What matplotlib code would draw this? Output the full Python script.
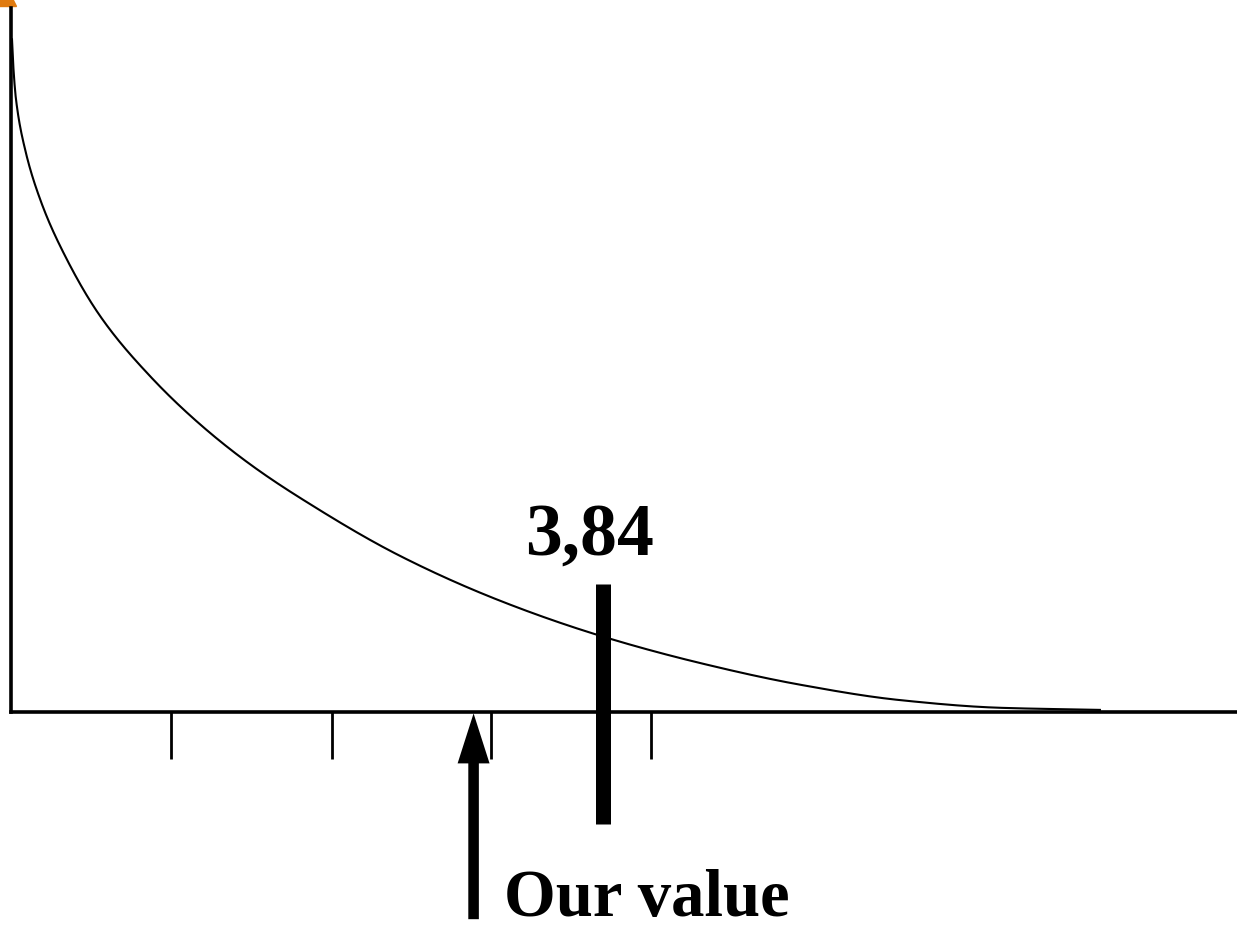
import matplotlib.pyplot as plt
import numpy as np
from matplotlib.patches import FancyArrowPatch

curve_x = [0.0065, 0.016, 0.032, 0.091, 0.188, 0.318, 0.577, 0.901, 1.226,
           1.550, 1.874, 2.523, 3.171, 3.820, 4.468, 5.117, 5.765, 6.414, 7.062]
curve_y = [0.961, 0.919, 0.876, 0.804, 0.733, 0.666, 0.566, 0.480, 0.411,
           0.354, 0.306, 0.223, 0.159, 0.109, 0.070, 0.039, 0.017, 0.006, 0.003]

tick_pos = [1.04, 2.08, 3.11, 4.15]
crit_value = 3.84
crit_label = '3,84'
our_value = 3.0
our_label = 'Our value'


def pchip(x, y, xs):
    # monotone cubic through the points so the curve stays smooth
    x = np.asarray(x, float)
    y = np.asarray(y, float)
    h = np.diff(x)
    d = np.diff(y) / h
    m = np.zeros_like(y)
    for k in range(1, len(x) - 1):
        if d[k - 1] * d[k] > 0:
            w1 = 2 * h[k] + h[k - 1]
            w2 = h[k] + 2 * h[k - 1]
            m[k] = (w1 + w2) / (w1 / d[k - 1] + w2 / d[k])
    m[0] = d[0]
    m[-1] = d[-1]
    idx = np.clip(np.searchsorted(x, xs) - 1, 0, len(x) - 2)
    t = (xs - x[idx]) / h[idx]
    h00 = 2 * t**3 - 3 * t**2 + 1
    h10 = t**3 - 2 * t**2 + t
    h01 = -2 * t**3 + 3 * t**2
    h11 = t**3 - t**2
    return (h00 * y[idx] + h10 * h[idx] * m[idx]
            + h01 * y[idx + 1] + h11 * h[idx] * m[idx + 1])


fig = plt.figure(figsize=(12.37, 9.29), dpi=100)
ax = fig.add_axes([0, 0, 1, 1])
ax.set_xlim(-0.0713, 7.951)
ax.set_ylim(-0.3086, 1.0186)

xs = np.linspace(curve_x[0], curve_x[-1], 3000)
ax.plot(xs, pchip(curve_x, curve_y, xs), color='black', lw=1.5)

# axes lines
for side in ['top', 'right']:
    ax.spines[side].set_visible(False)
ax.spines['left'].set_position(('data', 0))
ax.spines['bottom'].set_position(('data', 0))
ax.spines['left'].set_bounds(0, 1.006)
ax.spines['bottom'].set_bounds(0, 7.951)
ax.spines['left'].set_linewidth(2.6)
ax.spines['bottom'].set_linewidth(2.6)
ax.set_xticks(tick_pos)
ax.set_xticklabels([])
ax.set_yticks([])
ax.tick_params(axis='x', direction='out', length=33.8, width=2.0)

# small orange cap at the top of the y axis
ax.plot([-0.045], [1.026], marker='^', ms=17, color='#e07b10', clip_on=False)

# critical value bar and its label
ax.vlines(crit_value, -0.16, 0.183, lw=10.8, color='black')
ax.annotate(crit_label, xy=(crit_value, 0.226), xytext=(-14, 0),
            textcoords='offset pixels', ha='center', va='baseline',
            fontsize=53, fontweight='bold', family='Liberation Serif')

# arrow pointing at our value
arrow = FancyArrowPatch((our_value, -0.296), (our_value, -0.002),
                        arrowstyle='simple,head_length=1.8,head_width=1.15,tail_width=0.38',
                        mutation_scale=20, color='black', lw=0,
                        shrinkA=0, shrinkB=0)
ax.add_patch(arrow)
ax.annotate(our_label, xy=(our_value, -0.29), xytext=(30, 0),
            textcoords='offset pixels', ha='left', va='baseline',
            fontsize=48, fontweight='bold', family='Liberation Serif')

fig.savefig('out.png', dpi=100)
